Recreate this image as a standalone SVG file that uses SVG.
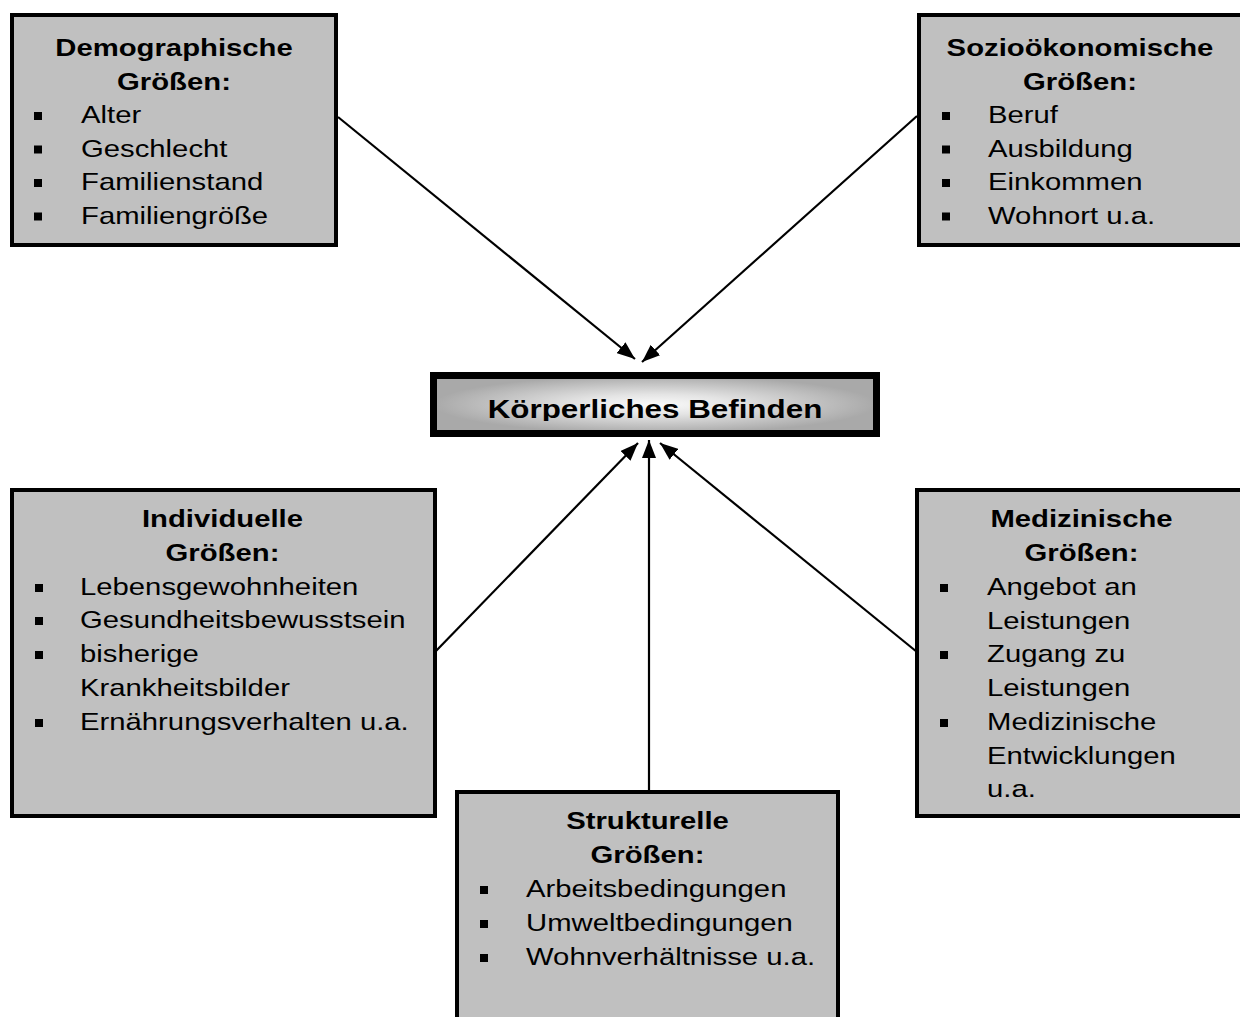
<svg xmlns="http://www.w3.org/2000/svg" width="1240" height="1017" viewBox="0 0 1240 1017">
<style>
.box{fill:#c0c0c0;stroke:#000;stroke-width:4}
.h{font-family:"Liberation Sans",Arial,sans-serif;font-size:24px;font-weight:bold;text-anchor:middle;fill:#000}
.t{font-family:"Liberation Sans",Arial,sans-serif;font-size:24px;fill:#000}
.b{fill:#000}
.c{stroke:#000;stroke-width:2.2;fill:none;marker-end:url(#ah)}
</style>
<defs>
<marker id="ah" markerUnits="userSpaceOnUse" markerWidth="18" markerHeight="14" refX="18" refY="7" orient="auto">
<path d="M0,0 L18,7 L0,14 z" fill="#000"/>
</marker>
<radialGradient id="cg" cx="50%" cy="50%" r="50%">
<stop offset="0" stop-color="#fafafa"/>
<stop offset="0.35" stop-color="#e4e4e4"/>
<stop offset="1" stop-color="#a9a9a9"/>
</radialGradient>
<clipPath id="cclip"><rect x="437" y="379" width="436" height="42"/></clipPath>
</defs>
<rect width="1240" height="1017" fill="#fff"/>

<g id="connectors">
<line class="c" x1="338" y1="117" x2="635" y2="359"/>
<line class="c" x1="917" y1="116" x2="642" y2="362"/>
<line class="c" x1="435" y1="652" x2="638" y2="443"/>
<line class="c" x1="649" y1="790" x2="649" y2="440"/>
<line class="c" x1="917" y1="652" x2="660" y2="443"/>
</g>

<g id="center">
<rect x="433.5" y="375.5" width="443" height="58" fill="url(#cg)" stroke="#000" stroke-width="7"/>
<g clip-path="url(#cclip)">
<text transform="translate(655,418) scale(1.23,1)" style="font-family:'Liberation Sans',Arial,sans-serif;font-size:25.5px;font-weight:bold;text-anchor:middle">Körperliches Befinden</text>
</g>
</g>

<g id="demographisch">
<rect class="box" x="12" y="15" width="324" height="230"/>
<text class="h" transform="translate(174,56) scale(1.22,1)">Demographische</text>
<text class="h" transform="translate(174,89.5) scale(1.22,1)">Größen:</text>
<rect class="b" x="34" y="112" width="8" height="8"/>
<text class="t" transform="translate(81,123) scale(1.22,1)">Alter</text>
<rect class="b" x="34" y="145.5" width="8" height="8"/>
<text class="t" transform="translate(81,156.5) scale(1.22,1)">Geschlecht</text>
<rect class="b" x="34" y="179" width="8" height="8"/>
<text class="t" transform="translate(81,190) scale(1.22,1)">Familienstand</text>
<rect class="b" x="34" y="212.5" width="8" height="8"/>
<text class="t" transform="translate(81,223.5) scale(1.22,1)">Familiengröße</text>
</g>

<g id="soziooekonomisch">
<rect class="box" x="919" y="15" width="330" height="230"/>
<text class="h" transform="translate(1080,56) scale(1.22,1)">Sozioökonomische</text>
<text class="h" transform="translate(1080,89.5) scale(1.22,1)">Größen:</text>
<rect class="b" x="942" y="112" width="8" height="8"/>
<text class="t" transform="translate(988,123) scale(1.22,1)">Beruf</text>
<rect class="b" x="942" y="145.5" width="8" height="8"/>
<text class="t" transform="translate(988,156.5) scale(1.22,1)">Ausbildung</text>
<rect class="b" x="942" y="179" width="8" height="8"/>
<text class="t" transform="translate(988,190) scale(1.22,1)">Einkommen</text>
<rect class="b" x="942" y="212.5" width="8" height="8"/>
<text class="t" transform="translate(988,223.5) scale(1.22,1)">Wohnort u.a.</text>
</g>

<g id="individuell">
<rect class="box" x="12" y="490" width="423" height="326"/>
<text class="h" transform="translate(222.5,527) scale(1.22,1)">Individuelle</text>
<text class="h" transform="translate(222.5,561) scale(1.22,1)">Größen:</text>
<rect class="b" x="35" y="584" width="8" height="8"/>
<text class="t" transform="translate(80,595) scale(1.22,1)">Lebensgewohnheiten</text>
<rect class="b" x="35" y="617" width="8" height="8"/>
<text class="t" transform="translate(80,628) scale(1.22,1)">Gesundheitsbewusstsein</text>
<rect class="b" x="35" y="651" width="8" height="8"/>
<text class="t" transform="translate(80,662) scale(1.22,1)">bisherige</text>
<text class="t" transform="translate(80,696) scale(1.22,1)">Krankheitsbilder</text>
<rect class="b" x="35" y="719" width="8" height="8"/>
<text class="t" transform="translate(80,730) scale(1.22,1)">Ernährungsverhalten u.a.</text>
</g>

<g id="medizinisch">
<rect class="box" x="917" y="490" width="330" height="326"/>
<text class="h" transform="translate(1081.5,527) scale(1.22,1)">Medizinische</text>
<text class="h" transform="translate(1081.5,561) scale(1.22,1)">Größen:</text>
<rect class="b" x="940" y="584" width="8" height="8"/>
<text class="t" transform="translate(987,595) scale(1.22,1)">Angebot an</text>
<text class="t" transform="translate(987,629) scale(1.22,1)">Leistungen</text>
<rect class="b" x="940" y="651" width="8" height="8"/>
<text class="t" transform="translate(987,662) scale(1.22,1)">Zugang zu</text>
<text class="t" transform="translate(987,696) scale(1.22,1)">Leistungen</text>
<rect class="b" x="940" y="719" width="8" height="8"/>
<text class="t" transform="translate(987,730) scale(1.22,1)">Medizinische</text>
<text class="t" transform="translate(987,764) scale(1.22,1)">Entwicklungen</text>
<text class="t" transform="translate(987,797) scale(1.22,1)">u.a.</text>
</g>

<g id="strukturell">
<rect class="box" x="457" y="792" width="381" height="240"/>
<text class="h" transform="translate(647.5,829) scale(1.22,1)">Strukturelle</text>
<text class="h" transform="translate(647.5,863) scale(1.22,1)">Größen:</text>
<rect class="b" x="480" y="886" width="8" height="8"/>
<text class="t" transform="translate(526,897) scale(1.22,1)">Arbeitsbedingungen</text>
<rect class="b" x="480" y="920" width="8" height="8"/>
<text class="t" transform="translate(526,931) scale(1.22,1)">Umweltbedingungen</text>
<rect class="b" x="480" y="954" width="8" height="8"/>
<text class="t" transform="translate(526,965) scale(1.22,1)">Wohnverhältnisse u.a.</text>
</g>
</svg>
